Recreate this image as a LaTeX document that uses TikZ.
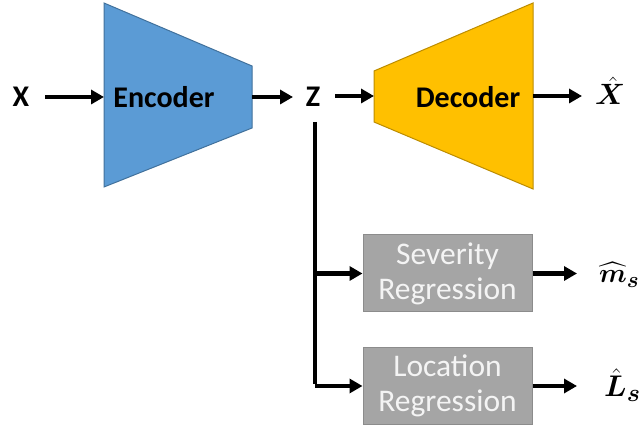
\documentclass[tikz,border=0pt]{standalone}
\usepackage{amsmath}
\usepackage{bm}
\usepackage{fontspec}
\setmainfont{Carlito}
\usetikzlibrary{arrows.meta}

\definecolor{encfill}{HTML}{5B9BD5}
\definecolor{encline}{HTML}{41719C}
\definecolor{decfill}{HTML}{FFC000}
\definecolor{decline}{HTML}{BC8C00}
\definecolor{boxfill}{HTML}{A5A5A5}
\definecolor{boxline}{HTML}{8C8C8C}
\definecolor{boxtext}{HTML}{F4F4F4}

% bold math symbol at a chosen magnification
\newcommand{\bigmath}[2]{\scalebox{#1}{$\bm{#2}$}}

\tikzset{
  flow/.style={line width=4.2pt, -{Triangle[length=13pt,width=14pt]}},
  trunk/.style={line width=4.2pt},
  lbl/.style={font=\fontsize{30}{34}\selectfont\bfseries, inner sep=0pt},
  mathlbl/.style={font=\fontsize{24.88}{30}\selectfont, inner sep=0pt, anchor=base west},
  regbox/.style={draw=boxline, line width=1pt, fill=boxfill, text=boxtext,
    minimum width=169pt, minimum height=77pt, inner sep=0pt, align=center,
    font=\fontsize{31.5}{35}\selectfont},
}

\begin{document}
\begin{tikzpicture}[x=1pt,y=-1pt]
\useasboundingbox (0,0) rectangle (641,430);

% encoder and decoder trapezoids
\draw[fill=encfill, draw=encline, line width=1pt]
  (104,3) -- (252,66) -- (252,128) -- (104,187) -- cycle;
\draw[fill=decfill, draw=decline, line width=1pt]
  (374,71) -- (533,3) -- (533,189) -- (374,122) -- cycle;

\coordinate (encin)  at (104,97);
\coordinate (encout) at (252,97);
\coordinate (decin)  at (374,96);
\coordinate (decout) at (533,96);

\node[lbl] (x)   at (21,97)  {X};
\node[lbl] (enc) at (164,97) {Encoder};
\node[lbl] (z)   at (313,97) {Z};
\node[lbl] (dec) at (468,97) {Decoder};
\node[mathlbl] (xhat) at (595,105) {\bigmath{1.18}{\hat{X}}};

\coordinate (xs)  at (45,97);
\coordinate (zin) at (293,97);
\coordinate (zout) at (335,96);
\coordinate (xend) at (582,96);
\draw[flow] (xs) -- (encin);
\draw[flow] (encout) -- (zin);
\draw[flow] (zout) -- (decin);
\draw[flow] (decout) -- (xend);

% regression heads
\node[regbox] (sev) at (447.5,273.5) {Severity\\Regression};
\node[regbox] (loc) at (447.5,386)   {Location\\Regression};

\node[mathlbl] (mhat) at (599,283) {\bigmath{1.08}{\widehat{m}_{s}}};
\node[mathlbl] (lhat) at (604,397) {\bigmath{1.2}{\hat{L}_{s}}};

\coordinate (mend) at (577,273.5);
\coordinate (lend) at (577,386);

% trunk from the latent code down to the heads
\coordinate (ztop) at (315,122);
\coordinate (zmid) at (315,273.5);
\coordinate (zbot) at (315,386);
\draw[trunk] (ztop) -- ([yshift=2.1pt]zbot);
\draw[flow] (zmid) -- (sev.west);
\draw[flow] (zbot) -- (loc.west);

\draw[flow] (sev.east) -- (mend);
\draw[flow] (loc.east) -- (lend);
\end{tikzpicture}
\end{document}
